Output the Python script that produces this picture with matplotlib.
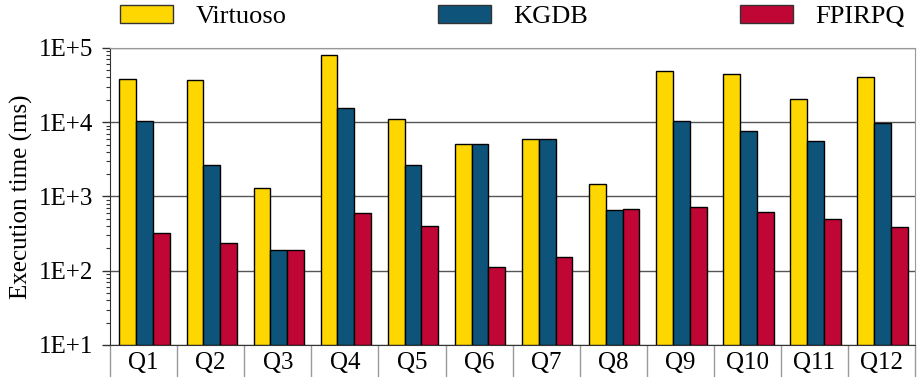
import matplotlib.pyplot as plt
import numpy as np
from matplotlib.ticker import FixedLocator, NullFormatter, LogLocator

plt.rcParams['font.family'] = ['Liberation Serif', 'DejaVu Serif']

# data (ms)
queries = ['Q1', 'Q2', 'Q3', 'Q4', 'Q5', 'Q6', 'Q7', 'Q8', 'Q9', 'Q10', 'Q11', 'Q12']
virtuoso = [38000, 37000, 1300, 80500, 11000, 5000, 5950, 1470, 49000, 44500, 20500, 40600]
kgdb = [10300, 2600, 178, 15500, 2650, 5000, 6000, 650, 10500, 7700, 5540, 9700]
fpirpq = [313, 229, 178, 580, 385, 101, 143, 665, 720, 615, 490, 372]

series = ['Virtuoso', 'KGDB', 'FPIRPQ']
colors = ['#FFD700', '#0E547A', '#C00634']

fig = plt.figure(figsize=(9.17, 3.77), dpi=100)
ax = fig.add_axes([0.12, 0.085, 0.878, 0.788])

x = np.arange(len(queries))
w = 0.25
for i, (name, vals) in enumerate(zip(series, [virtuoso, kgdb, fpirpq])):
    ax.bar(x + (i - 1) * w + 0.015, vals, width=w, bottom=10, color=colors[i],
           edgecolor='black', linewidth=1.0, label=name, zorder=3)

ax.set_yscale('log')
ax.set_ylim(10, 1e5)
ax.set_xlim(-0.5, len(queries) - 0.5)
ax.yaxis.set_major_locator(FixedLocator([1e1, 1e2, 1e3, 1e4, 1e5]))
ax.set_yticklabels(['1E+1', '1E+2', '1E+3', '1E+4', '1E+5'])
ax.yaxis.set_minor_locator(LogLocator(base=10, subs=np.arange(2, 10), numticks=20))
ax.yaxis.set_minor_formatter(NullFormatter())
ax.tick_params(axis='y', which='major', length=6, width=1, color='#333333',
               labelsize=18, pad=6)
ax.tick_params(axis='y', which='minor', length=3, width=0.8, color='#333333')
ax.grid(axis='y', which='major', color='#555555', linewidth=1, zorder=0)

# x: labels at group centres, separators at group boundaries
ax.set_xticks(x)
ax.set_xticklabels(queries)
ax.set_xticks(np.arange(len(queries) + 1) - 0.5, minor=True)
ax.tick_params(axis='x', which='major', length=0, labelsize=18, pad=5)
ax.tick_params(axis='x', which='minor', length=25, width=1, color='#999999')

ax.set_ylabel('Execution time (ms)', fontsize=18, labelpad=4)

ax.spines['left'].set_color('#333333')
ax.spines['bottom'].set_color('#333333')
ax.spines['top'].set_color('#999999')
ax.spines['right'].set_color('#999999')

leg = fig.legend(loc='lower left', ncol=3, bbox_to_anchor=(0.131, 0.925, 0.856, 0.07),
                 mode='expand', frameon=False, fontsize=19, handlelength=2.0,
                 handleheight=0.68, handletextpad=0.85, borderaxespad=0, borderpad=0)
for p in leg.get_patches():
    p.set_edgecolor('#333333')

fig.savefig('out.png', dpi=100)
